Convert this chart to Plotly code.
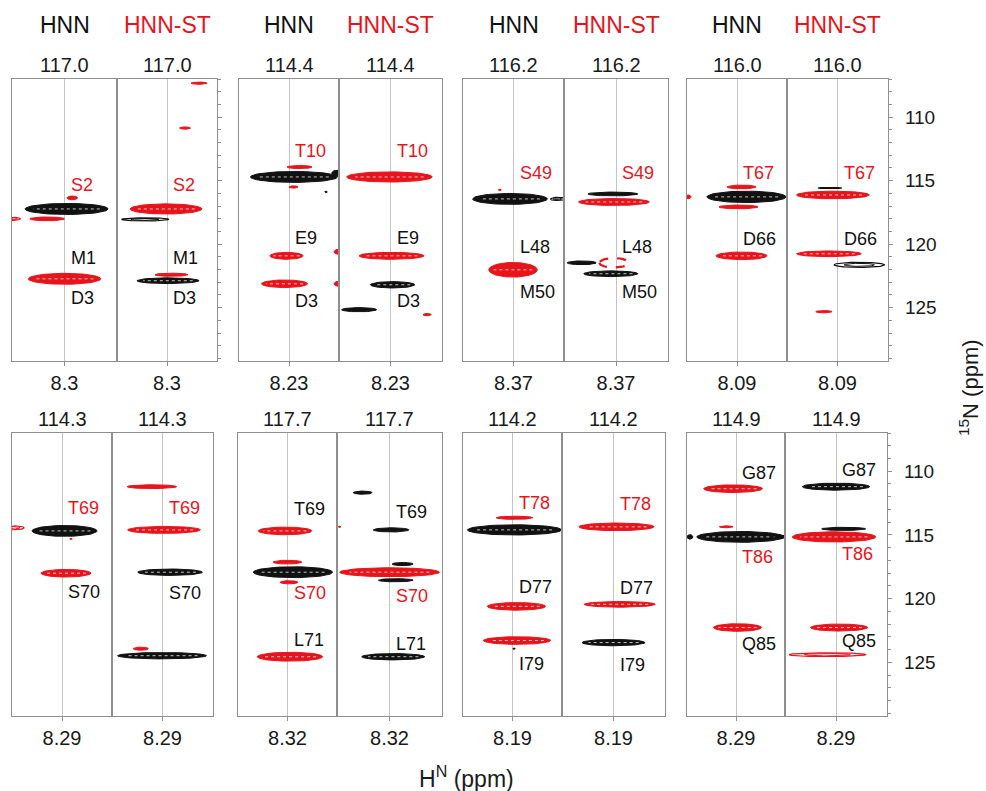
import numpy as np
import plotly.graph_objects as go

# ---------------- data ----------------
experiments = ["HNN", "HNN-ST"]
# one entry per strip pair (row-major: top row 4 panels, bottom row 4 panels)
h_centers = [8.30, 8.23, 8.37, 8.09, 8.29, 8.32, 8.19, 8.29]
h_labels = ["8.3", "8.23", "8.37", "8.09", "8.29", "8.32", "8.19", "8.29"]
n_planes = [117.0, 114.4, 116.2, 116.0, 114.3, 117.7, 114.2, 114.9]

# cross peaks: panel, strip (0=HNN,1=HNN-ST), 1H ppm, 15N ppm, 1H width, 15N width, sign, intensity
pk_panel = [0,0,0,0,0, 0,0,0,0,0,0,
            1,1,1,1,1,1,1,1,1, 1,1,1,1,1,
            2,2,2,2, 2,2,2,2,2,
            3,3,3,3,3, 3,3,3,3,3,
            4,4,4,4, 4,4,4,4,4,
            5,5,5,5,5, 5,5,5,5,5,5,5,
            6,6,6,6,6, 6,6,6,
            7,7,7,7,7,7, 7,7,7,7,7]
pk_strip = [0,0,0,0,0, 1,1,1,1,1,1,
            0,0,0,0,0,0,0,0,0, 1,1,1,1,1,
            0,0,0,0, 1,1,1,1,1,
            0,0,0,0,0, 1,1,1,1,1,
            0,0,0,0, 1,1,1,1,1,
            0,0,0,0,0, 1,1,1,1,1,1,1,
            0,0,0,0,0, 1,1,1,
            0,0,0,0,0,0, 1,1,1,1,1]
pk_h = [8.292, 8.270, 8.366, 8.498, 8.300,  8.172, 8.228, 8.304, 8.388, 8.282, 8.296,
        8.210, 8.034, 8.188, 8.212, 8.082, 8.240, 8.022, 8.248, 8.022,  8.234, 8.226, 8.222, 8.352, 8.088,
        8.384, 8.196, 8.424, 8.372,  8.382, 8.378, 8.502, 8.378, 8.390,
        8.052, 8.072, 8.084, 8.286, 8.072,  8.120, 8.108, 8.124, 8.004, 8.144,
        8.482, 8.280, 8.254, 8.274,  8.332, 8.284, 8.260, 8.376, 8.292,
        8.330, 8.320, 8.298, 8.314, 8.310,  8.422, 8.510, 8.314, 8.270, 8.320, 8.296, 8.306,
        8.182, 8.182, 8.174, 8.172, 8.184,  8.178, 8.166, 8.190,
        8.478, 8.302, 8.330, 8.272, 8.114, 8.284,  8.290, 8.260, 8.298, 8.278, 8.324]
pk_n = [117.23, 116.36, 118.01, 118.01, 122.73,  107.33, 110.86, 117.23, 118.05, 122.41, 122.88,
        114.71, 114.40, 113.93, 115.50, 115.89, 120.92, 120.60, 123.12, 123.12,  114.71, 120.92, 123.20, 125.16, 125.55,
        116.44, 116.44, 115.73, 122.02,  116.05, 116.68, 121.47, 121.47, 122.33,
        116.28, 115.50, 117.07, 116.28, 120.92,  115.58, 116.13, 120.76, 121.63, 125.32,
        114.44, 114.68, 115.31, 118.00,  111.21, 114.60, 117.92, 123.92, 124.47,
        114.68, 117.13, 117.92, 118.71, 124.55,  111.68, 114.36, 114.60, 117.28, 117.92, 118.55, 124.55,
        113.65, 114.60, 120.60, 123.28, 123.92,  114.36, 120.44, 123.44,
        115.15, 111.37, 114.36, 115.15, 115.15, 122.26,  111.21, 114.52, 115.15, 122.26, 124.39]
pk_wh = [0.316, 0.040, 0.132, 0.060, 0.276,  0.064, 0.044, 0.288, 0.188, 0.132, 0.248,
         0.348, 0.050, 0.100, 0.036, 0.010, 0.132, 0.056, 0.184, 0.056,  0.332, 0.252, 0.172, 0.136, 0.032,
         0.296, 0.056, 0.012, 0.192,  0.192, 0.272, 0.112, 0.112, 0.208,
         0.316, 0.116, 0.156, 0.024, 0.204,  0.096, 0.288, 0.256, 0.200, 0.064,
         0.080, 0.260, 0.010, 0.200,  0.196, 0.288, 0.256, 0.060, 0.352,
         0.216, 0.116, 0.320, 0.072, 0.264,  0.072, 0.010, 0.136, 0.080, 0.380, 0.132, 0.240,
         0.148, 0.380, 0.236, 0.272, 0.010,  0.292, 0.276, 0.244,
         0.024, 0.240, 0.056, 0.356, 0.060, 0.196,  0.264, 0.172, 0.328, 0.224, 0.300]
pk_wn = [0.87, 0.30, 0.30, 0.25, 0.86,  0.18, 0.18, 0.80, 0.25, 0.25, 0.45,
         0.86, 0.45, 0.25, 0.18, 0.12, 0.55, 0.45, 0.60, 0.45,  0.80, 0.55, 0.50, 0.33, 0.18,
         0.86, 0.25, 0.12, 1.15,  0.30, 0.55, 0.30, 0.75, 0.45,
         0.90, 0.30, 0.30, 0.30, 0.60,  0.08, 0.60, 0.45, 0.40, 0.18,
         0.30, 0.85, 0.10, 0.60,  0.30, 0.55, 0.50, 0.25, 0.50,
         0.60, 0.30, 0.85, 0.25, 0.70,  0.25, 0.10, 0.33, 0.25, 0.70, 0.25, 0.50,
         0.25, 0.80, 0.60, 0.60, 0.10,  0.60, 0.45, 0.50,
         0.35, 0.60, 0.15, 0.85, 0.25, 0.60,  0.55, 0.25, 0.80, 0.55, 0.30]
pk_sign = [1,-1,-1,-1,-1,  -1,-1,-1,1,-1,1,
           1,1,-1,-1,1,-1,-1,-1,-1,  -1,-1,1,1,-1,
           1,1,-1,-1,  1,-1,1,-1,1,
           1,-1,-1,-1,-1,  1,-1,-1,1,-1,
           -1,1,-1,-1,  -1,-1,1,-1,1,
           -1,-1,1,-1,-1,  1,-1,1,1,-1,1,1,
           -1,1,-1,-1,1,  -1,-1,1,
           1,-1,-1,1,1,-1,  1,1,-1,-1,-1]
pk_int = [1.0,1.0,1.0,0.3,1.0,  1.0,1.0,1.0,0.3,1.0,1.0,
          1.0,1.0,1.0,1.0,1.0,1.0,1.0,1.0,1.0,  1.0,1.0,1.0,1.0,1.0,
          1.0,0.3,1.0,1.0,  1.0,1.0,1.0,0.1,1.0,
          1.0,1.0,1.0,1.0,1.0,  0.3,1.0,1.0,0.3,1.0,
          0.3,1.0,1.0,1.0,  1.0,1.0,1.0,1.0,1.0,
          1.0,1.0,1.0,1.0,1.0,  1.0,1.0,1.0,1.0,1.0,1.0,1.0,
          1.0,1.0,1.0,1.0,1.0,  1.0,1.0,1.0,
          1.0,1.0,1.0,1.0,0.3,1.0,  1.0,1.0,1.0,1.0,0.3]

# residue assignment labels: panel, strip, text, 15N ppm, sign
lb_panel = [0,0,0,0,0,0, 1,1,1,1,1,1, 2,2,2,2,2,2, 3,3,3,3,
            4,4,4,4, 5,5,5,5,5,5, 6,6,6,6,6,6, 7,7,7,7,7,7]
lb_strip = [0,0,0,1,1,1, 0,0,0,1,1,1, 0,0,0,1,1,1, 0,0,1,1,
            0,0,1,1, 0,0,0,1,1,1, 0,0,0,1,1,1, 0,0,0,1,1,1]
lb_text = ["S2","M1","D3","S2","M1","D3", "T10","E9","D3","T10","E9","D3",
           "S49","L48","M50","S49","L48","M50", "T67","D66","T67","D66",
           "T69","S70","T69","S70", "T69","S70","L71","T69","S70","L71",
           "T78","D77","I79","T78","D77","I79", "G87","T86","Q85","G87","T86","Q85"]
lb_n = [115.34,121.08,124.22,115.34,121.08,124.22,
        112.67,119.50,124.45,112.67,119.50,124.45,
        114.40,120.21,123.75,114.40,120.21,123.75,
        114.40,119.58,114.40,119.58,
        112.87,119.50,112.87,119.57,
        112.94,119.57,123.20,113.18,119.81,123.52,
        112.47,119.10,125.10,112.55,119.18,125.18,
        110.10,116.73,123.52,109.87,116.50,123.28]
lb_sign = [-1,1,1,-1,1,1, -1,1,1,-1,1,1, -1,1,1,-1,1,1, -1,1,-1,1,
           -1,1,-1,1, 1,-1,1,1,-1,1, -1,1,1,-1,1,1, 1,-1,1,1,-1,1]

n_ticks = [110, 115, 120, 125]

# ---------------- styling / layout ----------------
W, H = 986, 791
RED = "#e8141c"
BLACK = "#111111"
FRAME = "#8f8f8f"
GRID = "#c4c4c4"
FONT = "Liberation Sans, Arial, sans-serif"
N_RANGE = [129.2, 107.0]
H_HALF = 0.2

strip_px = [
    [(12, 117), (117, 217), (239, 339), (339, 442), (463, 564), (564, 668), (687, 787), (787, 888)],
    [(12, 112), (112, 213), (238, 337), (337, 442), (463, 562), (562, 665), (687, 785), (785, 887)],
]
row_px = [(79, 361), (433, 716)]


def col(sign):
    return BLACK if sign > 0 else RED


def ax_name(k):
    return "" if k == 1 else str(k)


fig = go.Figure()
layout = dict(
    width=W, height=H, autosize=False,
    margin=dict(l=0, r=0, t=0, b=0),
    paper_bgcolor="white", plot_bgcolor="white",
    showlegend=False,
    font=dict(family=FONT, color="#1a1a1a"),
)
annotations = []

for g in range(8):
    row, c4 = divmod(g, 4)
    c = h_centers[g]
    for s in range(2):
        k = g * 2 + s + 1
        x0, x1 = strip_px[row][c4 * 2 + s]
        y0, y1 = row_px[row]
        xa = dict(
            domain=[x0 / W, x1 / W], range=[c + H_HALF, c - H_HALF],
            anchor="y" + ax_name(k),
            tickmode="array", tickvals=[c], ticktext=[h_labels[g]],
            ticks="outside", ticklen=4, tickcolor=FRAME, tickwidth=1,
            tickfont=dict(size=20, color="#1a1a1a", family=FONT),
            showgrid=True, gridcolor=GRID, gridwidth=1,
            showline=True, mirror=True, linecolor=FRAME, linewidth=1.2,
            zeroline=False, fixedrange=True,
        )
        ya = dict(
            domain=[1 - y1 / H, 1 - y0 / H], range=N_RANGE,
            anchor="x" + ax_name(k),
            showline=True, mirror=True, linecolor=FRAME, linewidth=1.2,
            showgrid=False, zeroline=False, showticklabels=False, ticks="",
            fixedrange=True,
        )
        if s == 1 and (c4 == 3 or (c4 == 0 and row == 0)):
            ya.update(
                side="right", ticks="outside", ticklen=4, tickcolor=FRAME,
                tickmode="array", tickvals=n_ticks,
                minor=dict(ticks="outside", ticklen=2.5, tickcolor=FRAME, dtick=1, tick0=107),
            )
            if c4 == 3:
                ya.update(showticklabels=True, ticklabelstandoff=8,
                          tickfont=dict(size=19, color="#1a1a1a", family=FONT))
        layout["xaxis" + ax_name(k)] = xa
        layout["yaxis" + ax_name(k)] = ya

        # 15N plane value above each strip
        annotations.append(dict(
            text=f"{n_planes[g]:.1f}", xref=f"x{ax_name(k)} domain", yref=f"y{ax_name(k)} domain",
            x=0.5, y=1, xanchor="center", yanchor="bottom", yshift=1, showarrow=False,
            font=dict(size=20, color="#1a1a1a", family=FONT)))
        if row == 0:
            annotations.append(dict(
                text=experiments[s], xref=f"x{ax_name(k)} domain", yref="paper",
                x=0.5, y=1 - 25 / H, xanchor="center", yanchor="middle", showarrow=False,
                font=dict(size=23, color=BLACK if s == 0 else RED, family=FONT)))

# cross peaks
t = np.linspace(0, 2 * np.pi, 73)
for i in range(len(pk_h)):
    k = pk_panel[i] * 2 + pk_strip[i] + 1
    xr, yr = "x" + ax_name(k), "y" + ax_name(k)
    hc, nc, wh, wn = pk_h[i], pk_n[i], pk_wh[i], pk_wn[i]
    cc = col(pk_sign[i])
    ex = hc + wh / 2 * np.cos(t)
    ey = nc + wn / 2 * np.sin(t)
    inten = pk_int[i]
    if inten >= 0.5:
        fig.add_trace(go.Scatter(x=ex, y=ey, mode="lines", fill="toself", fillcolor=cc,
                                 line=dict(color=cc, width=1), hoverinfo="skip",
                                 xaxis=xr, yaxis=yr))
        if wn >= 0.4 and wh >= 0.1:
            fig.add_trace(go.Scatter(x=[hc - 0.4 * wh, hc + 0.4 * wh], y=[nc, nc], mode="lines",
                                     line=dict(color="rgba(255,255,255,0.75)", width=1, dash="dot"),
                                     hoverinfo="skip", xaxis=xr, yaxis=yr))
    elif inten >= 0.2:
        fig.add_trace(go.Scatter(x=ex, y=ey, mode="lines",
                                 line=dict(color=cc, width=1.2), hoverinfo="skip",
                                 xaxis=xr, yaxis=yr))
        fig.add_trace(go.Scatter(x=hc + 0.3 * wh * np.cos(t), y=nc + 0.3 * wn * np.sin(t),
                                 mode="lines", line=dict(color=cc, width=1), hoverinfo="skip",
                                 xaxis=xr, yaxis=yr))
    else:
        fig.add_trace(go.Scatter(x=ex, y=ey, mode="lines",
                                 line=dict(color=cc, width=2.2, dash="dash"), hoverinfo="skip",
                                 xaxis=xr, yaxis=yr))

# residue labels
for i in range(len(lb_text)):
    g = lb_panel[i]
    k = g * 2 + lb_strip[i] + 1
    annotations.append(dict(
        text=lb_text[i], x=h_centers[g], y=lb_n[i], xref="x" + ax_name(k), yref="y" + ax_name(k),
        xanchor="left", yanchor="middle", xshift=4, showarrow=False,
        font=dict(size=18, color=col(lb_sign[i]), family=FONT)))

# axis titles
annotations.append(dict(text="H<sup>N</sup> (ppm)", xref="paper", yref="paper",
                        x=466 / W, y=1 - 777 / H, xanchor="center", yanchor="middle",
                        showarrow=False, font=dict(size=23, color="#1a1a1a", family=FONT)))
annotations.append(dict(text="<sup>15</sup>N (ppm)", xref="paper", yref="paper",
                        x=969 / W, y=1 - 388 / H, xanchor="center", yanchor="middle",
                        textangle=-90, showarrow=False,
                        font=dict(size=22, color="#1a1a1a", family=FONT)))

layout["annotations"] = annotations
fig.update_layout(**layout)
fig.write_html("out.html", include_plotlyjs=True, config={"displayModeBar": False},
               post_script="document.body.style.margin='0';document.body.style.overflow='hidden';")
